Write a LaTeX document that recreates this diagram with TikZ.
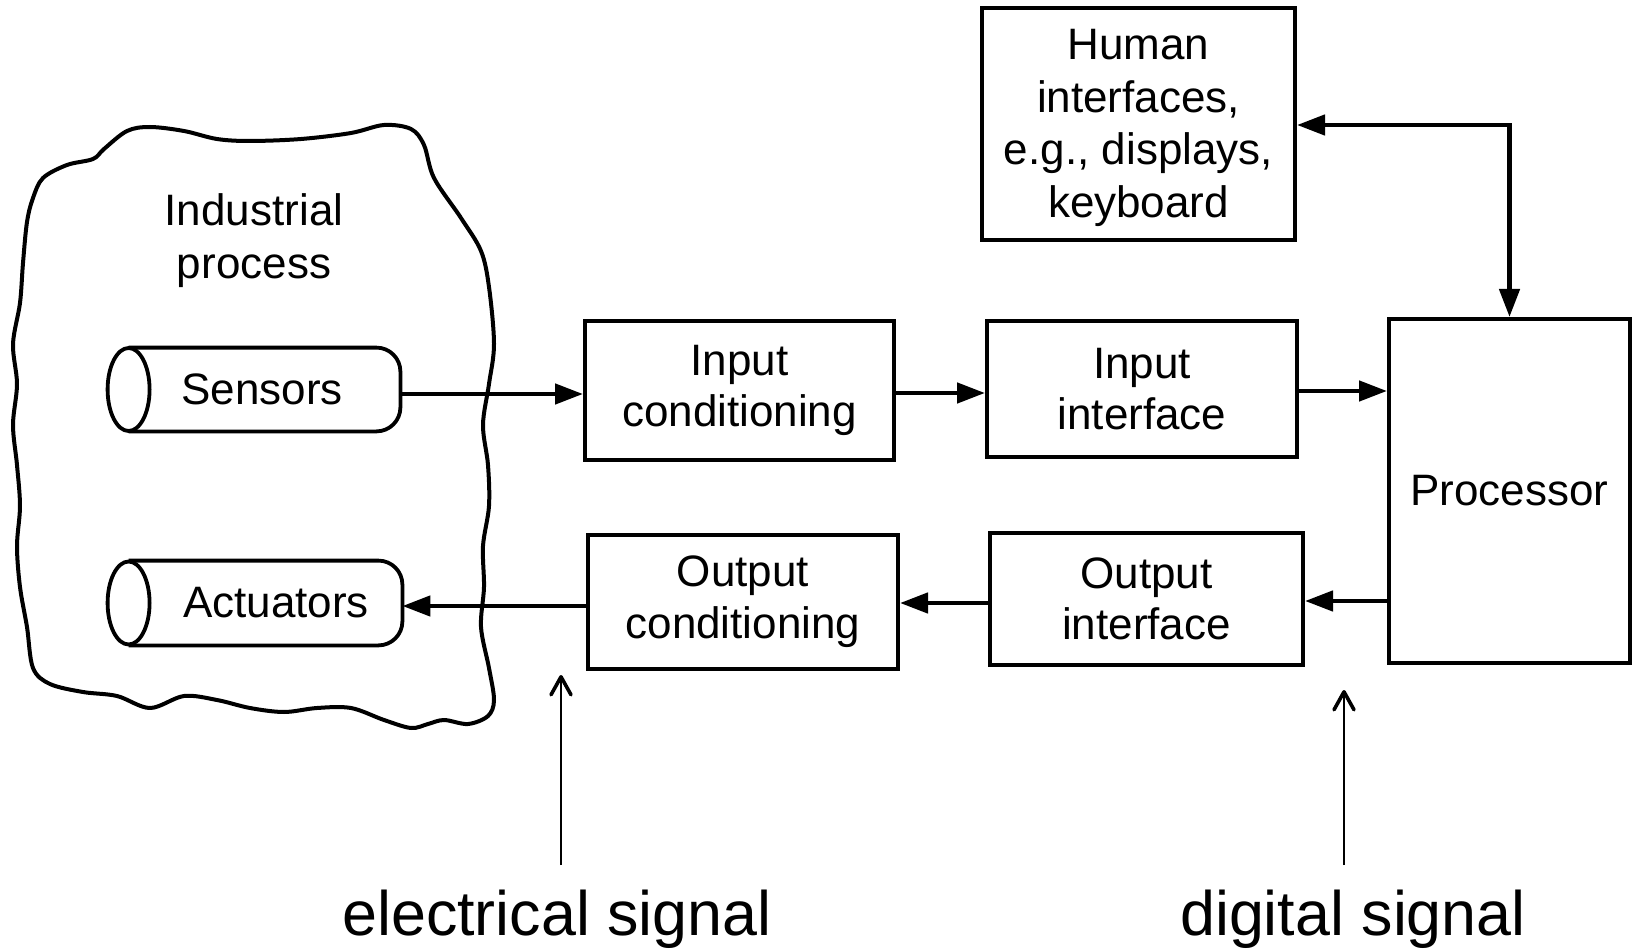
\documentclass[tikz,border=0pt]{standalone}
\usepackage{fontspec}
\setmainfont{Liberation Sans}
\usetikzlibrary{arrows.meta,calc}

\tikzset{
  block/.style={draw, line width=2pt, align=center, inner sep=0pt,
    font=\fontsize{22}{25.8}\selectfont},
  cylbody/.style={draw=none, inner sep=0pt},
  cyltext/.style={inner sep=0pt, font=\fontsize{22}{25.5}\selectfont},
  flow/.style={line width=2.3pt, -{Triangle[length=14pt,width=10pt]}},
  twoway/.style={line width=2.3pt, {Triangle[length=14pt,width=10pt]}-{Triangle[length=14pt,width=10pt]}},
  note/.style={inner sep=0pt, font=\fontsize{31.4}{35}\selectfont, anchor=base},
  pointer/.style={line width=1pt, -{Straight Barb[length=9pt,width=10pt,line width=1.8pt,round]}},
}

\begin{document}
\begin{tikzpicture}[x=0.5pt, y=-0.5pt]
\useasboundingbox (0,0) rectangle (1638,952);

% the plant, drawn as a freehand outline
\draw[line width=2pt, line join=round] plot[smooth cycle, tension=0.55] coordinates {
  (33,198) (43,178) (67,165) (93,159) (104,149) (127,131) (150,127) (184,131)
  (217,139) (250,141) (301,139) (351,133) (384,125) (411,129) (424,145)
  (434,178) (461,218) (481,251) (489,287) (494,344) (489,384) (483,425)
  (488,465) (489,506) (483,546) (484,587) (481,627) (489,668) (494,700)
  (488,716) (468,724) (444,720) (428,724) (411,728) (384,720) (351,708)
  (317,708) (284,712) (250,708) (217,700) (184,696) (150,708) (117,696)
  (83,692) (50,684) (33,668) (27,627) (20,587) (17,546) (20,506) (17,465)
  (13,425) (17,384) (13,344) (20,303) (23,263) (27,222)};
\node[cyltext, align=center, font=\fontsize{22}{26.5}\selectfont] (plant) at (254,241) {Industrial\\process};

% sensors and actuators as horizontal cylinders
\node[cylbody, minimum width=146pt, minimum height=41.5pt] (sens) at (254,389.5) {};
\node[cylbody, minimum width=147pt, minimum height=42pt] (act) at (255,603) {};
\foreach \c in {sens,act}{
  \draw[line width=1.9pt, rounded corners=12pt]
    ([xshift=10.5pt]\c.north west) -- (\c.north east) -- (\c.south east) -- ([xshift=10.5pt]\c.south west);
  \draw[line width=1.9pt, fill=white] ([xshift=10.5pt]\c.west) ellipse [x radius=10.5pt, y radius=20.75pt];
}
\node[cyltext] (sensT) at (262,389) {Sensors};
\node[cyltext] (actT) at (276,603) {Actuators};

% signal chain
\node[block, minimum width=154.5pt, minimum height=69.5pt] (inCond) at (739.5,390.5) {Input\\conditioning};
\node[block, minimum width=155pt, minimum height=68pt] (inIf) at (1142,389) {Input\\interface};
\node[block, minimum width=120.5pt, minimum height=172pt] (proc) at (1509.5,491) {Processor};
\node[block, minimum width=156.5pt, minimum height=66pt] (outIf) at (1146.5,599) {Output\\interface};
\node[block, minimum width=155pt, minimum height=67pt] (outCond) at (743,602) {Output\\conditioning};
\node[block, minimum width=156.5pt, minimum height=116pt] (hum) at (1138.5,124) {};
\node[cyltext, align=center, font=\fontsize{22}{26.2}\selectfont] (humT) at (1138.5,128) {Human\\interfaces,\\e.g., displays,\\keyboard};

\draw[flow] (sens.east |- 0,394) -- (inCond.west |- 0,394);
\draw[flow] (inCond.east |- 0,393) -- (inIf.west |- 0,393);
\draw[flow] (inIf.east |- 0,391) -- (proc.west |- 0,391);
\draw[flow] (proc.west |- 0,601) -- (outIf.east |- 0,601);
\draw[flow] (outIf.west |- 0,603) -- (outCond.east |- 0,603);
\draw[flow] (outCond.west |- 0,606) -- (act.east |- 0,606);
\draw[twoway] (hum.east |- 0,125) -| (proc.north);

% signal annotations
\node[note] (elec) at (557,935) {electrical signal};
\node[note] (digi) at (1353,935) {digital signal};
\coordinate (elecTip) at (561,675);
\coordinate (digiTip) at (1344,690);
\draw[pointer] (elecTip |- 0,865) -- (elecTip);
\draw[pointer] (digiTip |- 0,865) -- (digiTip);
\end{tikzpicture}
\end{document}
